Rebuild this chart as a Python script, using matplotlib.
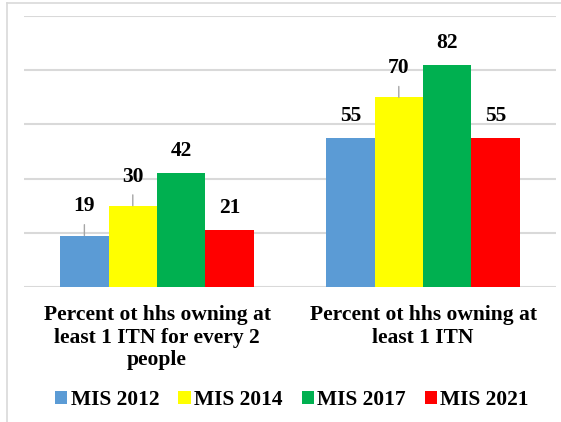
import numpy as np
import matplotlib
matplotlib.use("Agg")
import matplotlib.pyplot as plt
from matplotlib.lines import Line2D

categories = ["Percent ot hhs owning at\nleast 1 ITN for every 2\npeople",
              "Percent ot hhs owning at\nleast 1 ITN"]
series = ["MIS 2012", "MIS 2014", "MIS 2017", "MIS 2021"]
values = [[19, 55], [30, 70], [42, 82], [21, 55]]
colors = ["#5B9BD5", "#FFFF00", "#00B050", "#FF0000"]

plt.rcParams["font.family"] = ["Liberation Serif", "DejaVu Serif"]
plt.rcParams["font.weight"] = "bold"
fs = 15.5

fig = plt.figure(figsize=(5.61, 4.22), dpi=100)
ax = fig.add_axes([24 / 561, 1 - 287 / 422, 532 / 561, 271 / 422])

x = np.arange(len(categories))
w = 0.182
# labels that sit higher with a leader line (series, category)
leader = {(0, 0), (1, 0), (1, 1)}
for i, (name, vals) in enumerate(zip(series, values)):
    pos = x + (i - 1.5) * w
    ax.bar(pos, vals, w, color=colors[i], label=name, zorder=3)
    for j, v in enumerate(vals):
        if (i, j) in leader:
            ax.annotate(str(v), (pos[j], v), xytext=(0, 21), textcoords="offset points",
                        ha="center", va="center", fontsize=fs, fontweight="bold",
                        arrowprops=dict(arrowstyle="-", color="#a6a6a6", lw=1,
                                        shrinkA=4, shrinkB=0))
        else:
            ax.annotate(str(v), (pos[j], v), xytext=(0, 16), textcoords="offset points",
                        ha="center", va="center", fontsize=fs, fontweight="bold")

ax.set_xlim(-0.5, 1.5)
ax.set_ylim(0, 100)
ax.set_yticks(np.arange(0, 101, 20))
ax.set_yticklabels([])
ax.yaxis.grid(True, color="#d9d9d9", lw=1.5, zorder=0)
ax.tick_params(axis="both", length=0)
ax.tick_params(axis="x", pad=13)
ax.set_xticks(x)
ax.set_xticklabels(categories, fontsize=fs, fontweight="bold", linespacing=1.18)
for s in ax.spines.values():
    s.set_visible(False)

fig.legend(loc="center", bbox_to_anchor=(292 / 561, 22 / 422), ncol=4, frameon=False,
           prop={"size": fs, "weight": "bold"}, handlelength=0.56, handleheight=0.56,
           handletextpad=0.15, columnspacing=0.9)

# chart area border (left and top edges visible)
fig.add_artist(Line2D([7 / 561, 7 / 561], [0, 1 - 3 / 422], color="#d9d9d9", lw=1.2))
fig.add_artist(Line2D([7 / 561, 1], [1 - 3 / 422, 1 - 3 / 422], color="#d9d9d9", lw=1.2))

fig.savefig("out.png", dpi=100)
